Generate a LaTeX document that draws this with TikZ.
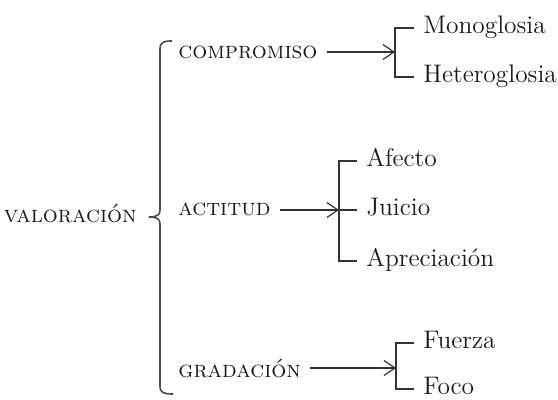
\documentclass[tikz,border=0pt]{standalone}
\usetikzlibrary{arrows.meta}
\begin{document}
\begin{tikzpicture}[x=0.5pt, y=-0.5pt,
	cat/.style={font=\fontsize{11.8}{13}\selectfont\scshape, text=black!90, inner sep=0, anchor=base west},
	item/.style={font=\fontsize{12.7}{15}\selectfont, text=black!90, inner sep=0, anchor=west, text height=9pt, text depth=3pt},
	line/.style={draw=black!80, line width=0.6pt},
	arr/.style={line, -{Straight Barb[length=5.5pt,width=7.5pt]}, shorten <=4.5pt}
]
\useasboundingbox (0,0) rectangle (558,400);

\node[cat, anchor=base east] (val) at (137,223) {valoración};

\node[cat] (comp) at (178,59) {compromiso};
\node[cat] (act) at (178,216) {actitud};
\node[cat] (grad) at (178,378) {gradación};

\coordinate (top) at (172,41);
\coordinate (tip) at (149,217);
\coordinate (bot) at (173,394);
\draw[line, line width=0.8pt, draw=black!70] (top) .. controls (164,41) and (160,42) .. (160,49) -- (160,210)
	.. controls (160,215) and (157,217) .. (tip) .. controls (157,217) and (160,219) .. (160,224)
	-- (160,386) .. controls (160,393) and (164,394) .. (bot);

\coordinate (c1) at (395,52);
\node[item] (mono) at (423,28) {Monoglosia};
\node[item] (hete) at (423,77) {Heteroglosia};
\draw[arr] (comp.east |- c1) -- (c1);
\draw[line] ([xshift=-4.5pt]mono.west) -| (c1) |- ([xshift=-4.5pt]hete.west);

\coordinate (c2) at (339,210);
\node[item] (afe) at (366,161) {Afecto};
\node[item] (jui) at (366,210) {Juicio};
\node[item] (apr) at (366,261) {Apreciación};
\draw[arr] (act.east |- c2) -- (c2);
\draw[line] ([xshift=-4.5pt]afe.west) -| (c2) |- ([xshift=-4.5pt]apr.west);
\draw[line] (c2) -- ([xshift=-4.5pt]jui.west);

\coordinate (c3) at (396,368);
\node[item] (fue) at (423,343) {Fuerza};
\node[item, anchor=base west, text depth=0pt] (foc) at (423,395) {Foco};
\draw[arr] (grad.east |- c3) -- (c3);
\draw[line] ([xshift=-4.5pt]fue.west) -| (c3) |- ([xshift=-4.5pt,yshift=3pt]foc.base west);
\end{tikzpicture}
\end{document}
